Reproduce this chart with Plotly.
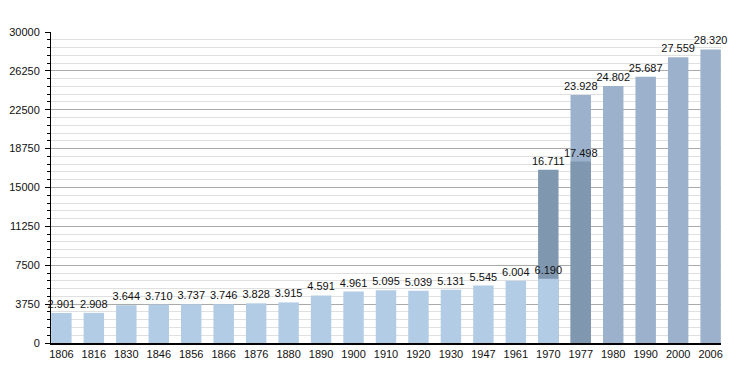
import plotly.graph_objects as go

years = ["1806", "1816", "1830", "1846", "1856", "1866", "1876", "1880", "1890", "1900",
         "1910", "1920", "1930", "1947", "1961", "1970", "1977", "1980", "1990", "2000", "2006"]

light_years = years[:16]
light_values = [2901, 2908, 3644, 3710, 3737, 3746, 3828, 3915, 4591, 4961,
                5095, 5039, 5131, 5545, 6004, 6190]

dark_years = ["1970", "1977"]
dark_values = [16711, 17498]

medium_years = ["1977", "1980", "1990", "2000", "2006"]
medium_values = [23928, 24802, 25687, 27559, 28320]

y_ticks = [0, 3750, 7500, 11250, 15000, 18750, 22500, 26250, 30000]

font_family = "Liberation Sans, Arial, sans-serif"

fig = go.Figure()
for xs, ys, col in [(medium_years, medium_values, "#9cb2cc"),
                    (dark_years, dark_values, "#8097b0"),
                    (light_years, light_values, "#b2cce5")]:
    fig.add_trace(go.Bar(
        x=xs, y=ys, marker=dict(color=col, line=dict(width=0)),
        width=0.63,
        texttemplate="%{y:,}", textposition="outside",
        constraintext="none",
        textfont=dict(size=11, color="#111111", family=font_family),
        cliponaxis=False, showlegend=False,
    ))

# page body has an 8px margin, so the figure is sized/offset accordingly
fig.update_layout(
    width=742, height=365,
    margin=dict(l=43, r=29, t=24, b=30, autoexpand=False),
    barmode="overlay",
    separators=",.",
    plot_bgcolor="white", paper_bgcolor="white",
    font=dict(family=font_family, size=11, color="#111111"),
    xaxis=dict(
        type="category", categoryorder="array", categoryarray=years,
        range=[-0.32, 20.32], automargin=False,
        showline=True, linecolor="#000000", linewidth=1.5,
        ticks="", showgrid=False, tickfont=dict(size=11),
        ticklabelstandoff=0,
    ),
    yaxis=dict(
        range=[0, 30000], tickvals=y_ticks, ticktext=[str(v) for v in y_ticks],
        automargin=False,
        showline=True, linecolor="#000000", linewidth=1,
        ticks="outside", ticklen=5, tickcolor="#000000", tickwidth=1,
        showgrid=True, gridcolor="#aaaaaa", gridwidth=1,
        zeroline=False, tickfont=dict(size=11),
        ticklabelstandoff=3,
        minor=dict(dtick=750, tick0=0, showgrid=True, gridcolor="#e0e0e0",
                   ticks="outside", ticklen=3, tickcolor="#000000"),
    ),
)

fig.write_html("out.html")
